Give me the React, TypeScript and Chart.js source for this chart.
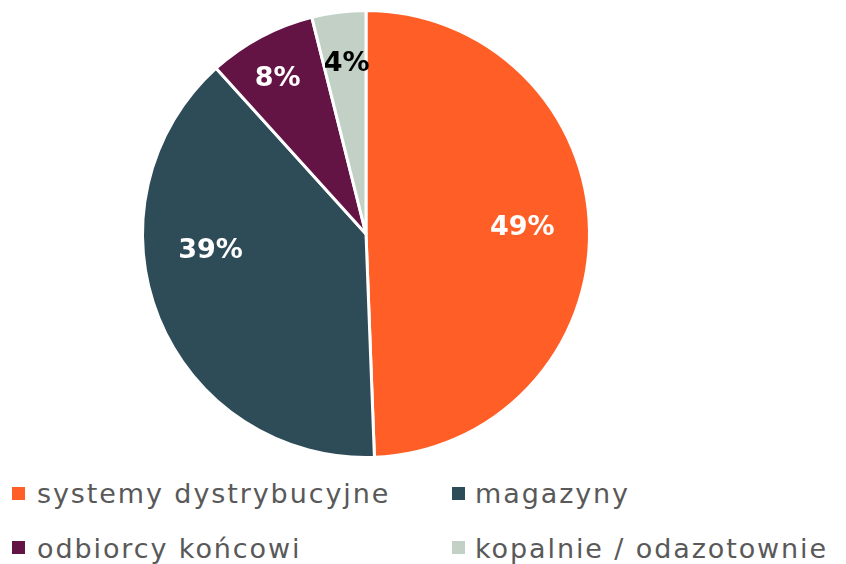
import React, { useEffect, useRef } from "react";
import { Chart, registerables } from "chart.js";

Chart.register(...registerables);

const categories = ["systemy dystrybucyjne", "magazyny", "odbiorcy końcowi", "kopalnie / odazotownie"];
const shares = [49.4, 38.9, 7.8, 3.9];
const colors = ["#FF5F26", "#2E4B58", "#641345", "#C3D0C6"];
const labelColors = ["#FFFFFF", "#FFFFFF", "#FFFFFF", "#000000"];
// label placement tweaks (angle offset in degrees, radius fraction)
const labelAngleOffset = [-1, 16, -1.5, 0.5];
const labelRadiusFrac = [0.7, 0.7, 0.8, 0.765];

const FONT = "'DejaVu Sans', sans-serif";

const labelPlugin = {
  id: "sliceLabels",
  afterDatasetsDraw(chart: any) {
    const ctx = chart.ctx;
    const meta = chart.getDatasetMeta(0);
    ctx.save();
    ctx.textAlign = "center";
    ctx.textBaseline = "middle";
    ctx.font = `bold 27px ${FONT}`;
    meta.data.forEach((arc: any, i: number) => {
      const p = arc.getProps(["x", "y", "startAngle", "endAngle", "outerRadius"], true);
      const mid = (p.startAngle + p.endAngle) / 2 + (labelAngleOffset[i] * Math.PI) / 180;
      const r = p.outerRadius * labelRadiusFrac[i];
      const x = p.x + Math.cos(mid) * r;
      const y = p.y + Math.sin(mid) * r;
      ctx.fillStyle = labelColors[i];
      ctx.fillText(Math.round(shares[i]) + "%", x, y);
    });
    ctx.restore();
  },
};

export default function App() {
  const ref = useRef<HTMLCanvasElement>(null);
  useEffect(() => {
    document.body.style.margin = "0";
    const chart = new Chart(ref.current!, {
      type: "pie",
      data: {
        labels: categories,
        datasets: [
          {
            data: shares,
            backgroundColor: colors,
            borderColor: "#FFFFFF",
            borderWidth: 3,
          },
        ],
      },
      options: {
        animation: false,
        responsive: false,
        maintainAspectRatio: false,
        layout: { padding: { left: 141, right: 255, top: 9, bottom: 11 } },
        plugins: { legend: { display: false }, tooltip: { enabled: false } },
      },
      plugins: [labelPlugin],
    });
    return () => chart.destroy();
  }, []);

  const squarePos = [
    { left: 12, top: 487 },
    { left: 452, top: 487 },
    { left: 12, top: 541 },
    { left: 452, top: 541 },
  ];
  const textPos = [
    { left: 37, top: 477 },
    { left: 475, top: 477 },
    { left: 37, top: 532 },
    { left: 475, top: 532 },
  ];

  return (
    <div style={{ position: "relative", width: 846, height: 564, background: "#fff", overflow: "hidden" }}>
      <canvas ref={ref} width={846} height={470} style={{ position: "absolute", left: 0, top: 0 }} />
      {categories.map((c, i) => (
        <React.Fragment key={c}>
          <div
            style={{
              position: "absolute",
              left: squarePos[i].left,
              top: squarePos[i].top,
              width: 13,
              height: 13,
              background: colors[i],
            }}
          />
          <div
            style={{
              position: "absolute",
              left: textPos[i].left,
              top: textPos[i].top,
              fontFamily: FONT,
              fontSize: 27,
              lineHeight: "34px",
              letterSpacing: "1.9px",
              color: "#595959",
              whiteSpace: "nowrap",
            }}
          >
            {c}
          </div>
        </React.Fragment>
      ))}
    </div>
  );
}
